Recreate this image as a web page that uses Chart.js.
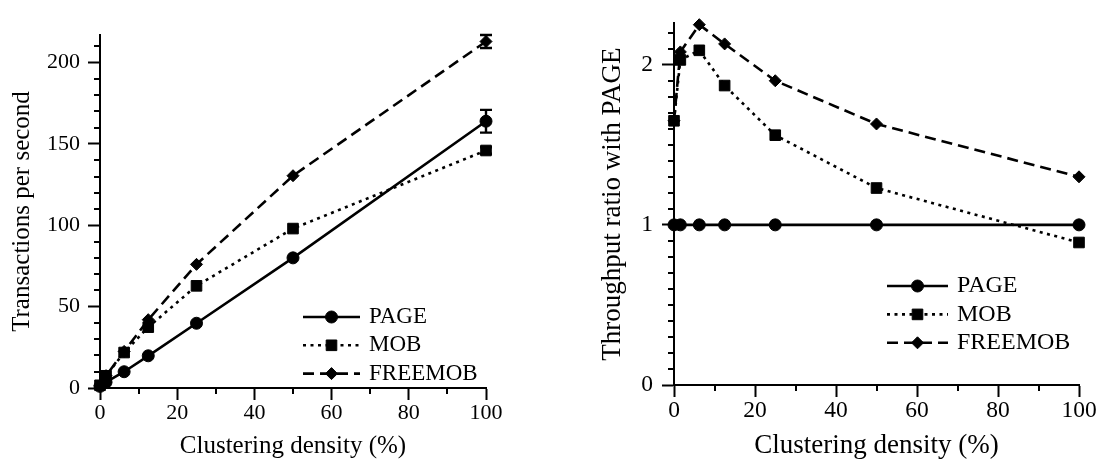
<!DOCTYPE html>
<html>
<head>
<meta charset="utf-8">
<script src="https://cdn.jsdelivr.net/npm/chart.js@4.4.1/dist/chart.umd.min.js"></script>
<style>
  html, body { margin: 0; padding: 0; background: #fff; }
  #wrap { position: relative; width: 1101px; height: 462px; overflow: hidden; }
  canvas { position: absolute; top: 0; }
  #c1 { left: 0; }
  #c2 { left: 550px; }
</style>
</head>
<body>
<div id="wrap">
  <canvas id="c1" width="550" height="462"></canvas>
  <canvas id="c2" width="551" height="462"></canvas>
</div>
<script>
// ---- data ----
const seriesNames = ['PAGE', 'MOB', 'FREEMOB'];
const densities = [0, 1.5625, 6.25, 12.5, 25, 50, 100];
const tpsPage = [1.0, 3.6, 10, 19.8, 39.8, 80, 164];
const tpsMob = [1.65, 7.5, 21.8, 37.4, 62.8, 98, 146];
const tpsFreemob = [1.65, 7.6, 22.5, 42, 76, 130.5, 213];
const tpsPageErr = [0, 0, 0, 0, 0, 0, 7];
const tpsMobErr = [0, 0, 0, 0, 0, 0, 2];
const tpsFreemobErr = [0, 0, 0, 0, 0, 0, 4];
const ratioPage = [1, 1, 1, 1, 1, 1, 1];
const ratioMob = [1.65, 2.03, 2.09, 1.87, 1.56, 1.23, 0.89];
const ratioFreemob = [1.65, 2.08, 2.25, 2.13, 1.90, 1.63, 1.30];
const xTitle = 'Clustering density (%)';
const yTitleLeft = 'Transactions per second';
const yTitleRight = 'Throughput ratio with PAGE';

const FONT = "'Liberation Serif', 'Times New Roman', serif";
const BLACK = '#000';
const CLEAR = 'rgba(0,0,0,0)';

function pts(ys) { return densities.map((d, i) => ({ x: d, y: ys[i] })); }

const styles = [
  { borderDash: [], pointStyle: 'circle', pointRadius: 6 },
  { borderDash: [3, 4.5], pointStyle: 'rect', pointRadius: 7.5 },
  { borderDash: [11, 6], pointStyle: 'rectRot', pointRadius: 6 }
];

function makeDatasets(seriesList, errList) {
  return seriesList.map((ys, i) => ({
    label: seriesNames[i],
    data: pts(ys),
    errors: errList ? errList[i] : null,
    borderColor: BLACK,
    backgroundColor: BLACK,
    pointBackgroundColor: BLACK,
    pointBorderColor: BLACK,
    borderWidth: 2.6,
    borderDash: styles[i].borderDash,
    pointStyle: styles[i].pointStyle,
    pointRadius: styles[i].pointRadius,
    pointBorderWidth: 1,
    tension: 0,
    fill: false,
    clip: false
  }));
}

// ---- plugins ----
const minorTicks = {
  id: 'minorTicks',
  afterDraw(chart, args, o) {
    const { ctx, chartArea } = chart;
    const xs = chart.scales.x, ys = chart.scales.y;
    ctx.save();
    ctx.strokeStyle = BLACK;
    ctx.lineWidth = 2;
    ctx.beginPath();
    const nx = Math.round((xs.max - xs.min) / o.xStep);
    for (let k = 0; k <= nx; k++) {
      const v = xs.min + k * o.xStep;
      if (Math.abs(v / o.xMajor - Math.round(v / o.xMajor)) < 1e-6) continue;
      const px = Math.round(xs.getPixelForValue(v));
      ctx.moveTo(px, chartArea.bottom);
      ctx.lineTo(px, chartArea.bottom + o.len);
    }
    const ny = Math.floor((ys.max - ys.min) / o.yStep + 1e-6);
    for (let k = 0; k <= ny; k++) {
      const v = ys.min + k * o.yStep;
      if (Math.abs(v / o.yMajor - Math.round(v / o.yMajor)) < 1e-6) continue;
      const py = Math.round(ys.getPixelForValue(v));
      ctx.moveTo(chartArea.left, py);
      ctx.lineTo(chartArea.left - o.len, py);
    }
    ctx.stroke();
    ctx.restore();
  }
};

const errorBars = {
  id: 'errorBars',
  afterDatasetsDraw(chart, args, o) {
    const { ctx } = chart;
    const xs = chart.scales.x, ys = chart.scales.y;
    ctx.save();
    ctx.strokeStyle = BLACK;
    ctx.lineWidth = 2.4;
    ctx.setLineDash([]);
    chart.data.datasets.forEach(ds => {
      if (!ds.errors) return;
      ds.data.forEach((p, j) => {
        const e = ds.errors[j];
        if (!e) return;
        const px = xs.getPixelForValue(p.x);
        const t = ys.getPixelForValue(p.y + e);
        const b = ys.getPixelForValue(p.y - e);
        ctx.beginPath();
        ctx.moveTo(px, t); ctx.lineTo(px, b);
        ctx.moveTo(px - o.cap, t); ctx.lineTo(px + o.cap, t);
        ctx.moveTo(px - o.cap, b); ctx.lineTo(px + o.cap, b);
        ctx.stroke();
      });
    });
    ctx.restore();
  }
};

const lineLegend = {
  id: 'lineLegend',
  afterDraw(chart, args, o) {
    const { ctx } = chart;
    chart.data.datasets.forEach((ds, i) => {
      const y = o.y + i * o.rowGap;
      ctx.save();
      ctx.strokeStyle = BLACK;
      ctx.lineWidth = ds.borderWidth;
      ctx.setLineDash(ds.borderDash || []);
      ctx.beginPath();
      ctx.moveTo(o.x, y);
      ctx.lineTo(o.x + o.lineLen, y);
      ctx.stroke();
      ctx.setLineDash([]);
      ctx.fillStyle = BLACK;
      ctx.lineWidth = 1;
      Chart.helpers.drawPoint(ctx, { pointStyle: ds.pointStyle, radius: ds.pointRadius, borderWidth: 1, rotation: 0 }, o.x + o.lineLen / 2, y);
      ctx.font = o.size + 'px ' + FONT;
      ctx.textBaseline = 'middle';
      ctx.textAlign = 'left';
      ctx.fillText(ds.label, o.x + o.lineLen + o.gap, y);
      ctx.restore();
    });
  }
};

function axisOpts(cfg) {
  return {
    type: 'linear',
    min: cfg.min, max: cfg.max,
    afterFit: cfg.afterFit,
    border: { display: true, color: BLACK, width: 2 },
    grid: {
      drawOnChartArea: false,
      drawTicks: true,
      tickLength: 12,
      tickWidth: 2,
      tickColor: c => {
        const v = c.tick ? c.tick.value : NaN;
        return Math.abs(v / cfg.major - Math.round(v / cfg.major)) < 1e-6 ? BLACK : CLEAR;
      }
    },
    ticks: {
      stepSize: cfg.step,
      autoSkip: false,
      maxRotation: 0, minRotation: 0,
      padding: cfg.tickPad,
      color: BLACK,
      font: { family: FONT, size: cfg.tickSize },
      callback: v => Math.abs(v / cfg.major - Math.round(v / cfg.major)) < 1e-6 ? String(Math.round(v)) : ''
    },
    title: {
      display: true, text: cfg.title, color: BLACK,
      font: { family: FONT, size: cfg.titleSize },
      padding: cfg.titlePad
    }
  };
}

function makeChart(id, opts) {
  return new Chart(document.getElementById(id), {
    type: 'line',
    data: { datasets: opts.datasets },
    options: {
      responsive: false,
      animation: false,
      devicePixelRatio: 1,
      layout: { padding: opts.padding },
      plugins: {
        legend: { display: false },
        tooltip: { enabled: false },
        minorTicks: opts.minor,
        errorBars: { cap: 6 },
        lineLegend: opts.legend
      },
      scales: { x: opts.x, y: opts.y }
    },
    plugins: [minorTicks, errorBars, lineLegend]
  });
}

// Left chart: transactions per second
makeChart('c1', {
  datasets: makeDatasets([tpsPage, tpsMob, tpsFreemob], [tpsPageErr, tpsMobErr, tpsFreemobErr]),
  padding: { left: 0, top: 35, right: 64, bottom: 0 },
  minor: { xStep: 10, xMajor: 20, yStep: 10, yMajor: 50, len: 6 },
  legend: { x: 303, y: 317, rowGap: 28.3, lineLen: 57, gap: 9, size: 23 },
  x: axisOpts({ min: 0, max: 100, step: 10, major: 20, tickPad: 0, tickSize: 22, title: xTitle, titleSize: 25,
                titlePad: { top: 0, bottom: 1 }, afterFit: s => { s.height = 74; } }),
  y: axisOpts({ min: 0, max: 217, step: 10, major: 50, tickPad: 8, tickSize: 22, title: yTitleLeft, titleSize: 25,
                titlePad: { top: 7, bottom: 0 }, afterFit: s => { s.width = 100; } })
});

// Right chart: throughput ratio
makeChart('c2', {
  datasets: makeDatasets([ratioPage, ratioMob, ratioFreemob], null),
  padding: { left: 0, top: 14, right: 22, bottom: 0 },
  minor: { xStep: 10, xMajor: 20, yStep: 0.1, yMajor: 1, len: 6 },
  legend: { x: 337, y: 286, rowGap: 28.4, lineLen: 61, gap: 9, size: 24 },
  x: axisOpts({ min: 0, max: 100, step: 10, major: 20, tickPad: 0, tickSize: 23.5, title: xTitle, titleSize: 27,
                titlePad: { top: 0, bottom: 0 }, afterFit: s => { s.height = 77; } }),
  y: axisOpts({ min: 0, max: 2.26, step: 0.1, major: 1, tickPad: 9, tickSize: 23.5, title: yTitleRight, titleSize: 27,
                titlePad: { top: 47, bottom: 0 }, afterFit: s => { s.width = 124; } })
});
</script>
</body>
</html>
